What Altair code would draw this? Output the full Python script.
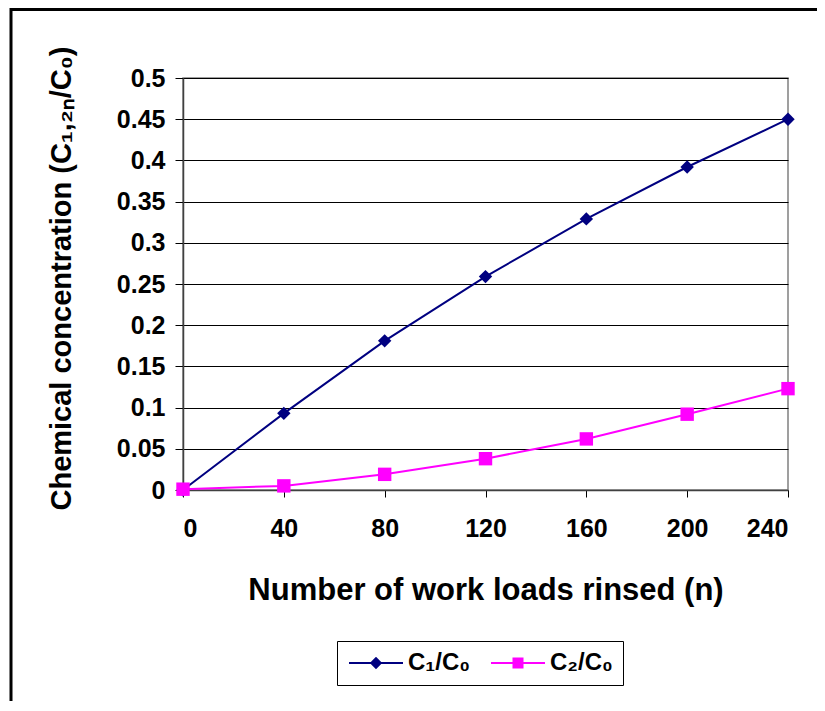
import altair as alt
import pandas as pd

# ---- data ----
loads = [0, 40, 80, 120, 160, 200, 240]
c1_over_c0 = [0.0, 0.093, 0.181, 0.259, 0.329, 0.392, 0.450]
c2_over_c0 = [0.001, 0.005, 0.019, 0.038, 0.062, 0.092, 0.123]
series_names = ["C₁/C₀", "C₂/C₀"]
series_colors = ["#000080", "#FF00FF"]
series_shapes = ["diamond", "square"]
x_ticks = [0, 40, 80, 120, 160, 200, 240]
y_ticks = [0, 0.05, 0.1, 0.15, 0.2, 0.25, 0.3, 0.35, 0.4, 0.45, 0.5]

df = pd.DataFrame({
    "n": loads * 2,
    "value": c1_over_c0 + c2_over_c0,
    "series": [series_names[0]] * len(loads) + [series_names[1]] * len(loads),
})

FONT = "Liberation Sans"
W, H = 605, 412

# legend symbols: a line with the marker on it (unit = 10px)
legend_paths = [
    "M-2.7,-0.1H2.7V0.1H-2.7Z M-0.62,0L0,-0.62L0.62,0L0,0.62Z",
    "M-2.7,-0.1H2.7V0.1H-2.7Z M-0.55,-0.55H0.55V0.55H-0.55Z",
]


def cscale():
    return alt.Scale(domain=series_names, range=series_colors)


x_enc = alt.X("n:Q", scale=alt.Scale(domain=[0, 240], nice=False),
              axis=alt.Axis(values=x_ticks, title="Number of work loads rinsed (n)",
                            grid=False, tickSize=7, labelPadding=19,
                            titleFontSize=31,
                            titleY=100, titleBaseline="middle"))
y_enc = alt.Y("value:Q", scale=alt.Scale(domain=[0, 0.5], nice=False),
              axis=alt.Axis(values=y_ticks, format="~g",
                            title="Chemical concentration (C₁,₂ₙ/C₀)",
                            grid=True, gridColor="#000000", gridWidth=1,
                            tickSize=8, labelPadding=10,
                            titleFontSize=29,
                            titleAngle=270, titleX=-122, titleY=200,
                            titleBaseline="middle", titleAlign="center"))

base = alt.Chart(df)

lines = base.mark_line(strokeWidth=2).encode(
    x=x_enc, y=y_enc,
    color=alt.Color("series:N", scale=cscale(), legend=None),
)

point_layers = []
for name, shp in zip(series_names, series_shapes):
    point_layers.append(
        base.transform_filter(alt.datum.series == name)
        .mark_point(filled=True, opacity=1, size=180, shape=shp)
        .encode(x="n:Q", y="value:Q",
                color=alt.Color("series:N", scale=cscale(), legend=None))
    )

legend_spec = alt.Legend(
    title=None, orient="none", direction="horizontal",
    legendX=154, legendY=563,
    strokeColor="#000000", fillColor="#ffffff",
    padding=10, symbolSize=400, symbolOffset=17, labelOffset=20, columnPadding=18,
    symbolStrokeWidth=0, symbolOpacity=1,
    labelFont=FONT, labelFontSize=24, labelFontWeight="bold", labelColor="#000000",
)

legend_layer = base.transform_filter("false").mark_point(filled=True, opacity=1).encode(
    x="n:Q", y="value:Q",
    color=alt.Color("series:N", scale=cscale(), legend=legend_spec),
    shape=alt.Shape("series:N", scale=alt.Scale(domain=series_names, range=legend_paths),
                    legend=legend_spec),
)

frame = alt.Chart(pd.DataFrame({"k": [0]})).mark_rect(
    fill=None, fillOpacity=0, stroke="#000000", strokeWidth=3
).encode(x=alt.value(-172), x2=alt.value(800), y=alt.value(-68.5), y2=alt.value(800))

chart = alt.layer(frame, lines, *point_layers, legend_layer).resolve_scale(
    color="independent", shape="independent"
).properties(
    width=W, height=H,
    background="#ffffff",
    autosize=alt.AutoSizeParams(type="none"),
    padding={"left": 175, "top": 70, "right": 29, "bottom": 211},
).configure_view(
    stroke="#808080", strokeWidth=1.5
).configure_axis(
    labelFont=FONT, labelFontSize=25, labelFontWeight="bold", labelColor="#000000",
    titleFont=FONT, titleFontSize=30, titleFontWeight="bold", titleColor="#000000",
    domainColor="#404040", domainWidth=1.5, tickColor="#000000", tickWidth=1,
)

chart.save("out.html", embed_options={"renderer": "svg", "actions": False})
